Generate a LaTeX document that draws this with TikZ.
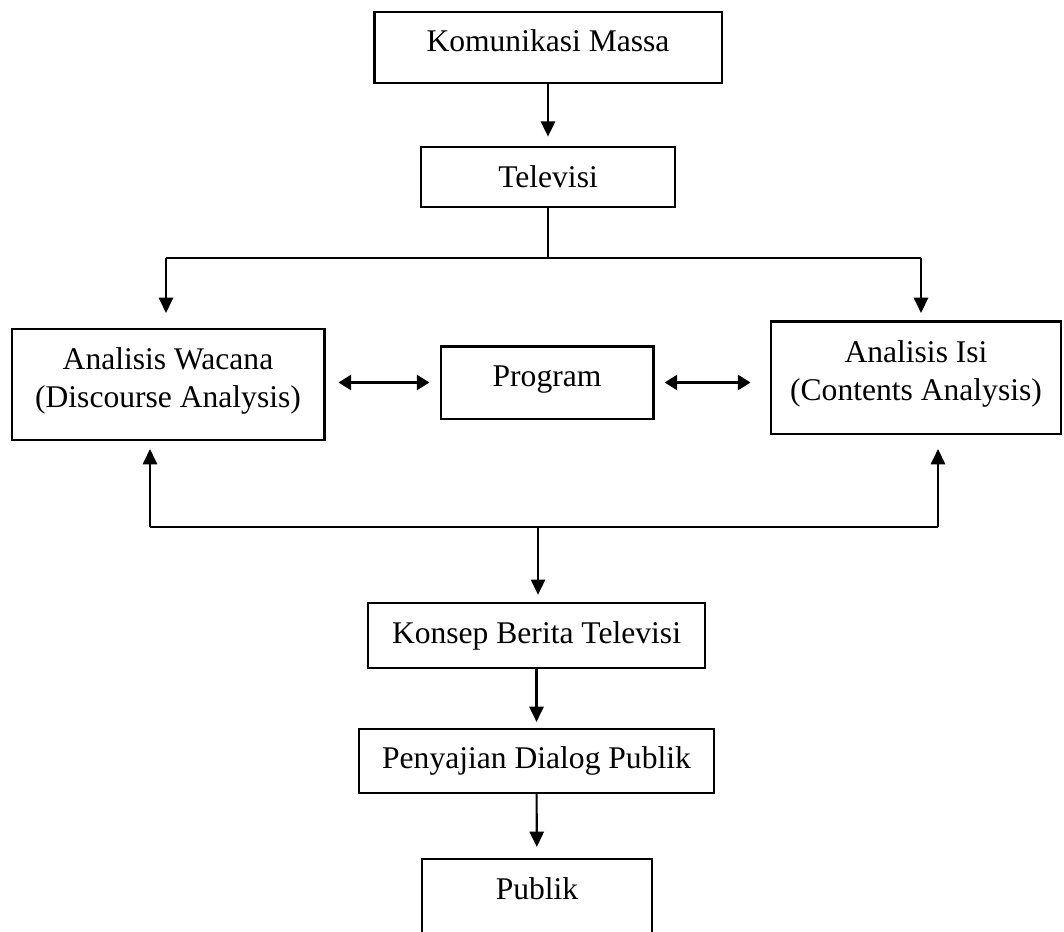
\documentclass[tikz,border=0pt]{standalone}
\usepackage{fontspec}
\setmainfont{Liberation Serif}
\usepackage{tikz}
\usetikzlibrary{arrows.meta}
\usetikzlibrary{calc}

\tikzset{
    kotak/.style={draw, rectangle, inner sep=0pt, align=center,
        font=\fontsize{12pt}{14.4pt}\selectfont, text depth=5pt},
    tebal/.style={kotak, line width=1.1pt},
    tipis/.style={kotak, line width=0.8pt, text depth=2.5pt},
    panah/.style={line width=0.8pt, -{Triangle[length=5.8pt,width=5.4pt]}},
    duapanah/.style={line width=1.3pt, {Triangle[length=4.8pt,width=5.6pt]}-{Triangle[length=4.8pt,width=5.6pt]}}
}

\begin{document}
\begin{tikzpicture}[x=0.38pt, y=-0.38pt]
        \useasboundingbox (0,0) rectangle (1064,931);
        \clip (0,0) rectangle (1064,931);

        \node[tebal, minimum width=132.2pt, minimum height=27pt] (komunikasi) at (548,47.5) {Komunikasi Massa};
        \node[tebal, minimum width=96.5pt, minimum height=22.8pt, text depth=0pt] (televisi) at (548,177) {Televisi};
        \node[tebal, minimum width=118.6pt, minimum height=42.2pt] (wacana) at (168,384.5) {Analisis Wacana\\(Discourse Analysis)};
        \node[tebal, minimum width=80.6pt, minimum height=27.7pt] (program) at (547,382.5) {Program};
        \node[tebal, minimum width=110.2pt, minimum height=42.9pt] (isi) at (916,377.5) {Analisis Isi\\(Contents Analysis)};
        \node[tipis, minimum width=128pt, minimum height=24.7pt] (konsep) at (536.5,635.5) {Konsep Berita Televisi};
        \node[tipis, minimum width=134.9pt, minimum height=24.3pt] (penyajian) at (536.5,761) {Penyajian Dialog Publik};
        \node[tipis, minimum width=87.4pt, minimum height=34.2pt, text depth=12pt] (publik) at (537,904) {Publik};

        \coordinate (cabang) at (548,258);
        \coordinate (kiriatas) at (166,313);
        \coordinate (kananatas) at (921,313);
        \coordinate (gabung) at (538,527);
        \coordinate (kiribawah) at (150,449);
        \coordinate (kananbawah) at (938,449);

        \draw[panah, shorten >=3.4pt] (komunikasi) -- (televisi);
        \draw[line width=0.4pt] (televisi) -- (cabang);
        \draw[line width=0.7pt] (kiriatas |- cabang) -- (kananatas |- cabang);
        \draw[panah] (kiriatas |- cabang) -- (kiriatas);
        \draw[panah] (kananatas |- cabang) -- (kananatas);

        \draw[duapanah, shorten <=4.9pt, shorten >=3.8pt] (wacana.east |- program) -- (program.west);
        \draw[duapanah, shorten <=3.8pt, shorten >=7.2pt] (program.east) -- (isi.west |- program);

        \draw[line width=0.7pt] (kiribawah |- gabung) -- (kananbawah |- gabung);
        \draw[panah] (kiribawah |- gabung) -- (kiribawah);
        \draw[panah] (kananbawah |- gabung) -- (kananbawah);
        \draw[panah, shorten >=2.7pt] (gabung) -- (gabung |- konsep.north);
        \draw[panah, shorten >=2.3pt] (konsep) -- (penyajian);
        \draw[panah, shorten >=4.2pt] (penyajian) -- (publik);
    \end{tikzpicture}
\end{document}
